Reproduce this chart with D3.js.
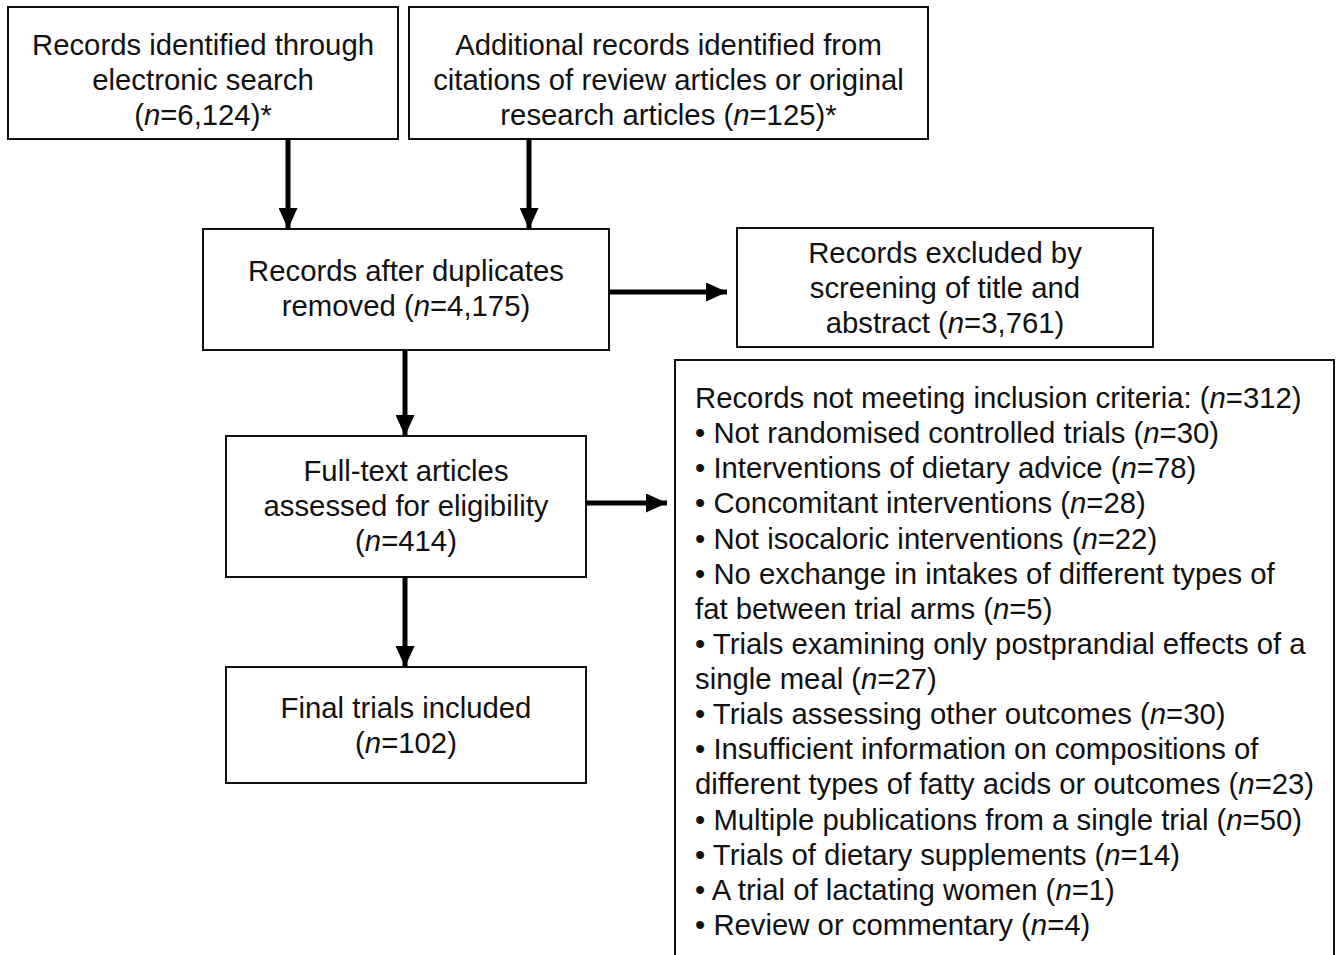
<!DOCTYPE html>
<html>
<head>
<meta charset="utf-8">
<script src="https://cdn.jsdelivr.net/npm/d3@7"></script>
<style>
  html, body { margin: 0; padding: 0; background: #fff; }
  svg { display: block; }
  text { font-family: "Liberation Sans", Arial, sans-serif; font-size: 29.3px; fill: #111; }
</style>
</head>
<body>
<script>
// flow stages, in order: two sources, dedup, screened out, full text, included
var stageCounts = [6124, 125, 4175, 3761, 414, 102];
var stageLines = [
    ["Records identified through", "electronic search", "({n}=#)*"],
    ["Additional records identified from", "citations of review articles or original", "research articles ({n}=#)*"],
    ["Records after duplicates", "removed ({n}=#)"],
    ["Records excluded by", "screening of title and", "abstract ({n}=#)"],
    ["Full-text articles", "assessed for eligibility", "({n}=#)"],
    ["Final trials included", "({n}=#)"]
];

// reasons for exclusion at full-text stage
var reasonHeader = "Records not meeting inclusion criteria: ({n}=#)";
var reasonLabels = [
    "Not randomised controlled trials",
    "Interventions of dietary advice",
    "Concomitant interventions",
    "Not isocaloric interventions",
    "No exchange in intakes of different types of\nfat between trial arms",
    "Trials examining only postprandial effects of a\nsingle meal",
    "Trials assessing other outcomes",
    "Insufficient information on compositions of\ndifferent types of fatty acids or outcomes",
    "Multiple publications from a single trial",
    "Trials of dietary supplements",
    "A trial of lactating women",
    "Review or commentary"
];
var reasonCounts = [30, 78, 28, 22, 5, 27, 30, 23, 50, 14, 1, 4];

// layout
var width = 1336, height = 955, lineH = 35;
var boxes = [
    {x: 8,   y: 7,   w: 390, h: 132, base: 55},
    {x: 409, y: 7,   w: 519, h: 132, base: 55},
    {x: 203, y: 229, w: 406, h: 121, base: 281},
    {x: 737, y: 228, w: 416, h: 119, base: 263},
    {x: 226, y: 436, w: 360, h: 141, base: 481},
    {x: 226, y: 667, w: 360, h: 116, base: 718}
];
var reasonBox = {x: 675, y: 360, w: 659, h: 620, base: 408, pad: 20};

var fmt = d3.format(",");

var svg = d3.select("body").append("svg")
    .attr("width", width)
    .attr("height", height);

svg.append("defs").append("marker")
    .attr("id", "head")
    .attr("viewBox", "0 0 10 10")
    .attr("refX", 10)
    .attr("refY", 5)
    .attr("markerUnits", "userSpaceOnUse")
    .attr("markerWidth", 21)
    .attr("markerHeight", 19)
    .attr("orient", "auto")
    .attr("preserveAspectRatio", "none")
    .append("path")
    .attr("d", "M0,0L10,5L0,10Z")
    .attr("fill", "#000");

// write one line, italicising the n
function writeLine(sel, str, x, y, anchor){
    var t = sel.append("text")
        .attr("x", x)
        .attr("y", y)
        .attr("text-anchor", anchor);
    str.split("{n}").forEach(function(part, i){
        if (i > 0) t.append("tspan").style("font-style", "italic").text("n");
        if (part) t.append("tspan").text(part);
    });
}

// boxes
var g = svg.append("g");
boxes.forEach(function(b, i){
    g.append("rect")
        .attr("x", b.x).attr("y", b.y)
        .attr("width", b.w).attr("height", b.h)
        .attr("fill", "none")
        .attr("stroke", "#111")
        .attr("stroke-width", 2);
    stageLines[i].forEach(function(l, j){
        writeLine(g, l.replace("#", fmt(stageCounts[i])), b.x + b.w / 2, b.base + j * lineH, "middle");
    });
});

// reasons box
g.append("rect")
    .attr("x", reasonBox.x).attr("y", reasonBox.y)
    .attr("width", reasonBox.w).attr("height", reasonBox.h)
    .attr("fill", "none")
    .attr("stroke", "#111")
    .attr("stroke-width", 2);

var reasonText = [reasonHeader.replace("#", d3.sum(reasonCounts))];
reasonLabels.forEach(function(lab, i){
    var parts = ("\u2022 " + lab).split("\n");
    parts[parts.length - 1] += " ({n}=" + reasonCounts[i] + ")";
    reasonText = reasonText.concat(parts);
});
reasonText.forEach(function(l, j){
    writeLine(g, l, reasonBox.x + reasonBox.pad, reasonBox.base + j * 35.13, "start");
});

// arrows
var arrowPts = [
    [[288, boxes[0].y + boxes[0].h], [288, boxes[2].y]],
    [[529, boxes[1].y + boxes[1].h], [529, boxes[2].y]],
    [[boxes[2].x + boxes[2].w, 292], [727, 292]],
    [[405, boxes[2].y + boxes[2].h], [405, boxes[4].y]],
    [[boxes[4].x + boxes[4].w, 503], [667, 503]],
    [[405, boxes[4].y + boxes[4].h], [405, boxes[5].y]]
];

svg.append("g").selectAll("path")
    .data(arrowPts)
    .enter()
    .append("path")
    .attr("d", function(d){ return d3.line()(d); })
    .attr("stroke", "#000")
    .attr("stroke-width", 5)
    .attr("fill", "none")
    .attr("marker-end", "url(#head)");
</script>
</body>
</html>
